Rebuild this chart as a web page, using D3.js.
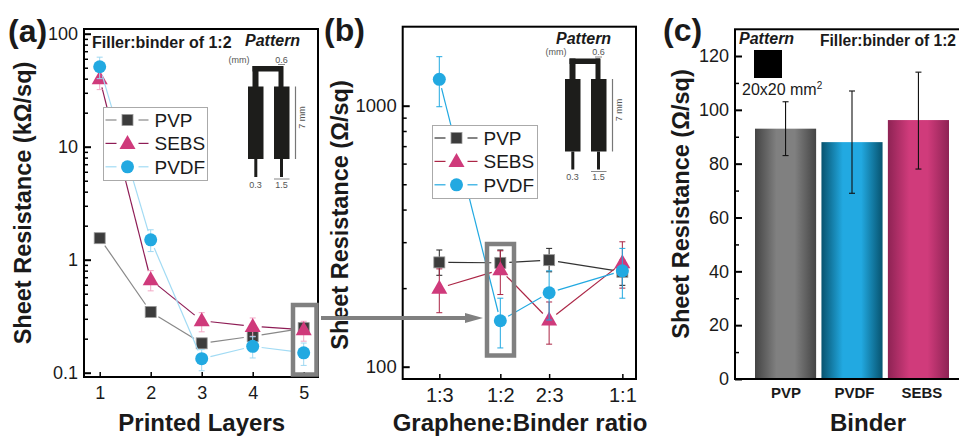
<!DOCTYPE html>
<html>
<head>
<meta charset="utf-8">
<script src="https://cdn.jsdelivr.net/npm/d3@7"></script>
<style>
  html, body { margin: 0; padding: 0; background: #fff; }
  svg { display: block; }
  text { font-family: "Liberation Sans", Arial, sans-serif; fill: #1a1a1a; }
</style>
</head>
<body>
<svg id="chart" width="959" height="437"></svg>
<script>
// panel (a) printed layers
const layers = [1, 2, 3, 4, 5];
const layersPVP = [1.55, 0.345, 0.182, 0.21, 0.248];
const layersPVPLow = [1.42, 0.315, 0.165, 0.19, 0.22];
const layersPVPHigh = [1.68, 0.375, 0.2, 0.235, 0.275];
const layersSEBS = [40, 0.665, 0.288, 0.257, 0.24];
const layersSEBSLow = [32, 0.53, 0.23, 0.21, 0.19];
const layersSEBSHigh = [50, 0.8, 0.34, 0.305, 0.285];
const layersPVDF = [51, 1.5, 0.133, 0.171, 0.15];
const layersPVDFLow = [40, 1.18, 0.104, 0.135, 0.116];
const layersPVDFHigh = [62, 1.84, 0.16, 0.208, 0.183];
const layerTicksY = [0.1, 1, 10, 100];

// panel (b) graphene:binder ratio, x is the graphene fraction
const ratioLabels = ['1:3', '1:2', '2:3', '1:1'];
const ratioFraction = [0.25, 1 / 3, 0.4, 0.5];
const ratioPVP = [251, 250, 256, 231];
const ratioPVPLow = [224, 226, 231, 205];
const ratioPVPHigh = [280, 280, 284, 256];
const ratioSEBS = [200, 235, 151, 250];
const ratioSEBSLow = [161, 189, 122, 200];
const ratioSEBSHigh = [237, 278, 177, 301];
const ratioPVDF = [1262, 150, 192, 233];
const ratioPVDFLow = [991, 118, 151, 183];
const ratioPVDFHigh = [1541, 183, 233, 284];
const ratioTicksY = [100, 1000];

// panel (c) binder
const binders = ['PVP', 'PVDF', 'SEBS'];
const binderValues = [93, 88, 96.2];
const binderLow = [83, 69, 78];
const binderHigh = [103, 107, 114];
const binderTicksY = [0, 20, 40, 60, 80, 100, 120];
const binderMinorY = [10, 30, 50, 70, 90, 110];

const svg = d3.select('#chart');

function logMinor(lo, hi) {
    let out = [];
    for (let d = lo; d < hi; d *= 10) {
        for (let k = 2; k <= 9; k++) out.push(d * k);
    }
    return out;
}

function frame(l, t, r, b) {
    svg.append('rect').attr('x', l).attr('y', t).attr('width', r - l).attr('height', b - t)
        .attr('fill', 'none').attr('stroke', '#000').attr('stroke-width', 2);
}

function yAxis(scale, left, major, minor, format, size) {
    const g = svg.append('g').attr('transform', 'translate(' + left + ',0)');
    g.call(d3.axisLeft(scale).tickValues(major).tickSize(-7).tickPadding(6).tickFormat(format));
    g.selectAll('line').attr('stroke', '#000').attr('stroke-width', 2);
    g.selectAll('text').attr('font-size', size).style('font-family', '"Liberation Sans", Arial, sans-serif');
    g.select('.domain').remove();
    const m = svg.append('g').attr('transform', 'translate(' + left + ',0)');
    m.call(d3.axisLeft(scale).tickValues(minor).tickSize(-4).tickFormat(''));
    m.selectAll('line').attr('stroke', '#000').attr('stroke-width', 1.5);
    m.select('.domain').remove();
}

function xAxis(scale, bottom, values, labels, size) {
    const g = svg.append('g').attr('transform', 'translate(0,' + bottom + ')');
    g.call(d3.axisBottom(scale).tickValues(values).tickSize(-5).tickPadding(9)
        .tickFormat(function (d, i) { return labels[i]; }));
    g.selectAll('line').attr('stroke', '#000').attr('stroke-width', 1.5);
    g.selectAll('text').attr('font-size', size).style('font-family', '"Liberation Sans", Arial, sans-serif');
    g.select('.domain').remove();
}

function marker(g, kind, cx, cy, color, edge) {
    if (kind === 'square') {
        g.append('rect').attr('x', cx - 5.5).attr('y', cy - 5.5).attr('width', 11).attr('height', 11)
            .attr('fill', color).attr('stroke', edge).attr('stroke-width', 0.8);
    } else if (kind === 'triangle') {
        g.append('path').attr('d', 'M' + cx + ',' + (cy - 8.5) + 'L' + (cx + 8) + ',' + (cy + 5.5) + 'L' + (cx - 8) + ',' + (cy + 5.5) + 'Z')
            .attr('fill', color);
    } else {
        g.append('circle').attr('cx', cx).attr('cy', cy).attr('r', 6.5).attr('fill', color);
    }
}

// Line with a small gap to each symbol, error bars and symbols on top
function series(xs, vals, low, high, x, y, s) {
    const g = svg.append('g');
    for (let i = 0; i < xs.length - 1; i++) {
        const x0 = x(xs[i]), y0 = y(vals[i]), x1 = x(xs[i + 1]), y1 = y(vals[i + 1]);
        const len = Math.hypot(x1 - x0, y1 - y0);
        const ux = (x1 - x0) / len, uy = (y1 - y0) / len;
        if (len < 18) continue;
        g.append('line')
            .attr('x1', x0 + ux * 9).attr('y1', y0 + uy * 9)
            .attr('x2', x1 - ux * 9).attr('y2', y1 - uy * 9)
            .attr('stroke', s.line).attr('stroke-width', 1.2);
    }
    xs.forEach(function (d, i) {
        const cx = x(d);
        g.append('line').attr('x1', cx).attr('x2', cx).attr('y1', y(low[i])).attr('y2', y(high[i]))
            .attr('stroke', s.err).attr('stroke-width', 1);
        [low[i], high[i]].forEach(function (v) {
            g.append('line').attr('x1', cx - 3).attr('x2', cx + 3).attr('y1', y(v)).attr('y2', y(v))
                .attr('stroke', s.err).attr('stroke-width', 1);
        });
    });
    xs.forEach(function (d, i) {
        marker(g, s.kind, x(d), y(vals[i]), s.color, s.edge);
    });
}

function legend(l, t, r, b, rows, styles) {
    const g = svg.append('g');
    g.append('rect').attr('x', l).attr('y', t).attr('width', r - l).attr('height', b - t)
        .attr('fill', '#fff').attr('stroke', '#aaa').attr('stroke-width', 1);
    rows.forEach(function (name, i) {
        const ry = t + 12.5 + i * 23.4, mx = l + 24;
        const s = styles[i];
        g.append('line').attr('x1', l + 2).attr('x2', l + 13).attr('y1', ry).attr('y2', ry)
            .attr('stroke', s.line).attr('stroke-width', 1.2);
        g.append('line').attr('x1', l + 35).attr('x2', l + 45).attr('y1', ry).attr('y2', ry)
            .attr('stroke', s.line).attr('stroke-width', 1.2);
        marker(g, s.kind, mx, ry, s.color, s.edge);
        g.append('text').attr('x', l + 51).attr('y', ry + 7).attr('font-size', 19).text(name);
    });
}

// The little electrode drawing, x/y = top left of the left pad
function pattern(x, y) {
    const g = svg.append('g').attr('transform', 'translate(' + x + ',' + y + ')');
    const dark = '#1d1d1b';
    [[0, 0, 15.5, 72.5], [26, 0, 15.5, 72.5], [4.5, -20.5, 30.5, 5.5], [4.5, -20.5, 6, 21], [30.5, -20.5, 5, 21],
        [6.3, 72.5, 3, 18], [32, 72.5, 3, 18]].forEach(function (r) {
        g.append('rect').attr('x', r[0]).attr('y', r[1]).attr('width', r[2]).attr('height', r[3]).attr('fill', dark);
    });
    g.append('line').attr('x1', 47.5).attr('x2', 47.5).attr('y1', 0).attr('y2', 72.5).attr('stroke', '#777').attr('stroke-width', 1.2);
    g.append('line').attr('x1', 30).attr('x2', 37).attr('y1', -22).attr('y2', -22).attr('stroke', '#555').attr('stroke-width', 0.7);
    g.append('line').attr('x1', 26).attr('x2', 41.5).attr('y1', 92.5).attr('y2', 92.5).attr('stroke', '#555').attr('stroke-width', 0.7);
    const note = function (tx, ty, t) {
        g.append('text').attr('x', tx).attr('y', ty).attr('font-size', 9).attr('text-anchor', 'middle').style('fill', '#555').text(t);
    };
    note(-9, -24, '(mm)');
    note(33.5, -24, '0.6');
    note(7.5, 101, '0.3');
    note(33.5, 101, '1.5');
    g.append('text').attr('transform', 'translate(56.5,31) rotate(-90)').attr('font-size', 9)
        .attr('text-anchor', 'middle').style('fill', '#555').text('7 mm');
}

function label(x, y, t, size, opts) {
    opts = opts || {};
    const el = svg.append('text').attr('font-size', size).attr('font-weight', opts.normal ? 400 : 700)
        .attr('font-style', opts.italic ? 'italic' : 'normal')
        .attr('text-anchor', opts.anchor || 'start');
    if (opts.rotate) {
        el.attr('transform', 'translate(' + x + ',' + y + ') rotate(-90)');
    } else {
        el.attr('x', x).attr('y', y);
    }
    el.text(t);
    return el;
}

function highlight(l, t, r, b) {
    svg.append('rect').attr('x', l).attr('y', t).attr('width', r - l).attr('height', b - t)
        .attr('fill', 'none').attr('stroke', '#808080').attr('stroke-width', 4.5);
}

const stylesA = [
    { kind: 'square', color: '#3c3c3c', edge: '#999', line: '#888', err: '#999' },
    { kind: 'triangle', color: '#cf3a7b', edge: 'none', line: '#8e1c55', err: '#f3a8c6' },
    { kind: 'circle', color: '#22a9e1', edge: 'none', line: '#a2dbf4', err: '#9fd8f2' }
];
const stylesB = [
    { kind: 'square', color: '#3c3c3c', edge: '#999', line: '#333', err: '#222' },
    { kind: 'triangle', color: '#cf3a7b', edge: 'none', line: '#ab2545', err: '#ab2545' },
    { kind: 'circle', color: '#22a9e1', edge: 'none', line: '#22a9e1', err: '#22a9e1' }
];
const seriesNames = ['PVP', 'SEBS', 'PVDF'];
const tickText = function (d) { return String(d); };

// ---- (a)
const xA = d3.scaleLinear().domain([1, 5]).range([99.7, 303.7]);
const yA = d3.scaleLog().domain([0.1, 100]).range([372.7, 33.7]);
series(layers, layersPVP, layersPVPLow, layersPVPHigh, xA, yA, stylesA[0]);
series(layers, layersSEBS, layersSEBSLow, layersSEBSHigh, xA, yA, stylesA[1]);
series(layers, layersPVDF, layersPVDFLow, layersPVDFHigh, xA, yA, stylesA[2]);
yAxis(yA, 84, layerTicksY, logMinor(0.1, 100), tickText, 18);
xAxis(xA, 377, layers, layers, 18);
frame(84, 29, 318, 377);
highlight(293, 305, 316.5, 374.5);
legend(103.5, 107.5, 207.5, 180.5, seriesNames, stylesA);
pattern(248, 86.5);
label(92, 48, 'Filler:binder of 1:2', 16);
label(245, 46, 'Pattern', 16, { italic: true });
label(8, 42, '(a)', 32);
label(31, 203, 'Sheet Resistance (kΩ/sq)', 23.5, { rotate: true, anchor: 'middle' });
label(201.7, 431, 'Printed Layers', 24, { anchor: 'middle' });

// ---- (b)
const xB = d3.scaleLinear().domain([0.2, 0.52]).range([402.7, 637]);
const yB = d3.scaleLog().domain([100, 1000]).range([366.7, 105.7]);
series(ratioFraction, ratioPVP, ratioPVPLow, ratioPVPHigh, xB, yB, stylesB[0]);
series(ratioFraction, ratioSEBS, ratioSEBSLow, ratioSEBSHigh, xB, yB, stylesB[1]);
series(ratioFraction, ratioPVDF, ratioPVDFLow, ratioPVDFHigh, xB, yB, stylesB[2]);
yAxis(yB, 402.7, ratioTicksY, logMinor(100, 1000), tickText, 18.5);
xAxis(xB, 379, ratioFraction, ratioLabels, 20);
frame(402.7, 26.7, 636, 379);
highlight(487, 244, 514, 355.5);
legend(432.5, 125.5, 537.5, 198.5, seriesNames, stylesB);
pattern(565, 79);
label(556, 44, 'Pattern', 16, { italic: true });
label(324, 41, '(b)', 32);
label(347.5, 215, 'Sheet Resistance (Ω/sq)', 23.5, { rotate: true, anchor: 'middle' });
label(520, 431, 'Graphene:Binder ratio', 24, { anchor: 'middle' });

// arrow from (a) to (b)
svg.append('line').attr('x1', 321).attr('x2', 467).attr('y1', 318).attr('y2', 318)
    .attr('stroke', '#808080').attr('stroke-width', 4);
svg.append('path').attr('d', 'M465,313 L483,318 L465,323 Z').attr('fill', '#808080');

// ---- (c)
const xC = d3.scaleBand().domain(binders).range([755, 949]).paddingInner(0.08).paddingOuter(0);
const yC = d3.scaleLinear().domain([0, 120]).range([379, 56]);
const gradients = [['#444444', '#808080'], ['#07536f', '#22a9e1'], ['#8e2354', '#d03b7b']];
const defs = svg.append('defs');
gradients.forEach(function (c, i) {
    const lg = defs.append('linearGradient').attr('id', 'bar' + i);
    [[0, c[0]], [0.35, c[1]], [0.65, c[1]], [1, c[0]]].forEach(function (st) {
        lg.append('stop').attr('offset', st[0]).attr('stop-color', st[1]);
    });
});
binders.forEach(function (b, i) {
    const cx = xC(b) + xC.bandwidth() / 2;
    svg.append('rect').attr('x', xC(b)).attr('y', yC(binderValues[i]))
        .attr('width', xC.bandwidth()).attr('height', yC(0) - yC(binderValues[i]))
        .attr('fill', 'url(#bar' + i + ')');
    svg.append('line').attr('x1', cx).attr('x2', cx).attr('y1', yC(binderLow[i])).attr('y2', yC(binderHigh[i]))
        .attr('stroke', '#111').attr('stroke-width', 1.1);
    [binderLow[i], binderHigh[i]].forEach(function (v) {
        svg.append('line').attr('x1', cx - 3).attr('x2', cx + 3).attr('y1', yC(v)).attr('y2', yC(v))
            .attr('stroke', '#111').attr('stroke-width', 1.1);
    });
    label(cx + [0.5, 2.5, 3.5][i], 398, b, 15, { anchor: 'middle' });
});
yAxis(yC, 735, binderTicksY, binderMinorY, tickText, 18);
frame(735, 29.3, 962, 379);
svg.append('rect').attr('x', 754).attr('y', 50).attr('width', 28).attr('height', 28).attr('fill', '#000');
label(739, 44, 'Pattern', 16, { italic: true });
label(820, 46, 'Filler:binder of 1:2', 15.6);
const areaLabel = label(742, 95, '20x20 mm', 16, { normal: true });
areaLabel.append('tspan').attr('dy', -6).attr('font-size', 10).text('2');
label(663, 41, '(c)', 32);
label(689, 204, 'Sheet Resistance (Ω/sq)', 23.5, { rotate: true, anchor: 'middle' });
label(868, 431, 'Binder', 24, { anchor: 'middle' });
</script>
</body>
</html>
